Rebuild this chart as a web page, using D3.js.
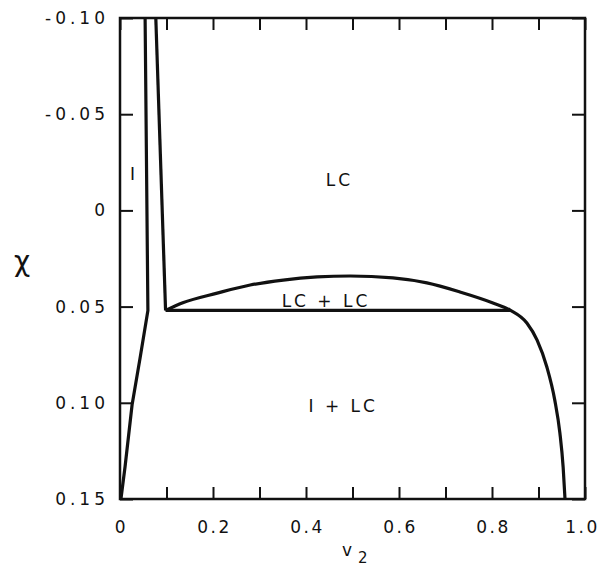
<!DOCTYPE html>
<html>
<head>
<meta charset="utf-8">
<script src="https://cdn.jsdelivr.net/npm/d3@7"></script>
<style>
  body { margin: 0; background: #fff; }
  text { font-family: 'DejaVu Sans', sans-serif; fill: #111; }
</style>
</head>
<body>
<svg width="604" height="571"></svg>
<script>
// axis ticks
const xTickValues = [0, 0.1, 0.2, 0.3, 0.4, 0.5, 0.6, 0.7, 0.8, 0.9, 1.0];
const xLabels = { 0: '0', 0.2: '0.2', 0.4: '0.4', 0.6: '0.6', 0.8: '0.8', 1: '1.0' };
const yTickValues = [-0.10, -0.05, 0, 0.05, 0.10, 0.15];
const yLabels = ['-0.10', '-0.05', '0', '0.05', '0.10', '0.15'];

// phase boundaries, [v2, chi]
const leftOuter = [[0.054, -0.10], [0.060, 0.052], [0.043, 0.077], [0.026, 0.101], [0.011, 0.133], [0.002, 0.15]];
const leftInner = [[0.077, -0.10], [0.098, 0.052]];
const tieLine = [[0.098, 0.052], [0.839, 0.052]];
const dome = [
    [0.098, 0.052], [0.135, 0.048], [0.209, 0.043], [0.280, 0.0388], [0.351, 0.0362],
    [0.424, 0.0346], [0.495, 0.0341], [0.587, 0.0351], [0.660, 0.0377], [0.731, 0.0424],
    [0.802, 0.0481], [0.839, 0.0518], [0.875, 0.0585], [0.897, 0.0674], [0.918, 0.0814],
    [0.935, 0.0986], [0.946, 0.1157], [0.953, 0.1334], [0.957, 0.15]
];

// region labels [text, v2, chi]
const regionLabels = [
    ['LC', 0.472, -0.016],
    ['I', 0.030, -0.019],
    ['LC + LC', 0.443, 0.047],
    ['I + LC', 0.480, 0.1015]
];

const svg = d3.select('svg');
const plotLeft = 120, plotRight = 585, plotTop = 18, plotBottom = 499;

const x = d3.scaleLinear().domain([0, 1]).range([plotLeft, plotRight]);
const y = d3.scaleLinear().domain([-0.10, 0.15]).range([plotTop, plotBottom]);

const styleAxis = (spacing) => (g) => {
    g.select('.domain').remove();
    g.selectAll('.tick line').attr('stroke', '#111').attr('stroke-width', 2);
    g.selectAll('.tick text')
        .attr('font-family', "'DejaVu Sans', sans-serif")
        .attr('font-size', 17)
        .attr('letter-spacing', spacing)
        .attr('fill', '#111');
};

// bottom axis with labels
svg.append('g')
    .attr('transform', `translate(0,${plotBottom})`)
    .call(d3.axisBottom(x)
        .tickValues(xTickValues)
        .tickSize(-12)
        .tickPadding(22)
        .tickFormat((d) => xLabels[Math.round(d * 10) / 10] || ''))
    .call(styleAxis(2.5))
    .selectAll('.tick text')
    .attr('dx', (d) => (d === 1 ? -3 : 1));

// top axis, ticks only
svg.append('g')
    .attr('transform', `translate(0,${plotTop})`)
    .call(d3.axisTop(x).tickValues(xTickValues).tickSize(-12).tickFormat(''))
    .call(styleAxis(0));

// left axis with labels
svg.append('g')
    .attr('transform', `translate(${plotLeft},0)`)
    .call(d3.axisLeft(y)
        .tickValues(yTickValues)
        .tickSize(-13)
        .tickPadding(11)
        .tickFormat((d, i) => yLabels[i]))
    .call(styleAxis(4));

// right axis, ticks only
svg.append('g')
    .attr('transform', `translate(${plotRight},0)`)
    .call(d3.axisRight(y).tickValues(yTickValues).tickSize(-13).tickFormat(''))
    .call(styleAxis(0));

// frame
svg.append('rect')
    .attr('x', plotLeft)
    .attr('y', plotTop)
    .attr('width', plotRight - plotLeft)
    .attr('height', plotBottom - plotTop)
    .attr('fill', 'none')
    .attr('stroke', '#111')
    .attr('stroke-width', 2.5);

// Curves
const line = d3.line().x((d) => x(d[0])).y((d) => y(d[1]));

const curves = svg.append('g')
    .attr('fill', 'none')
    .attr('stroke', '#111')
    .attr('stroke-width', 3.2)
    .attr('stroke-linejoin', 'round');

curves.append('path').attr('d', line(leftOuter));
curves.append('path').attr('d', line(leftInner));
curves.append('path').attr('d', line(tieLine));
curves.append('path').attr('d', line.curve(d3.curveMonotoneX)(dome));

// Region labels
svg.append('g')
    .selectAll('text')
    .data(regionLabels)
    .join('text')
    .attr('x', (d) => x(d[1]))
    .attr('y', (d) => y(d[2]))
    .attr('dy', '0.36em')
    .attr('text-anchor', 'middle')
    .attr('font-size', 17)
    .attr('letter-spacing', 3)
    .text((d) => d[0]);

// axis titles
svg.append('text')
    .attr('x', 22)
    .attr('y', 263)
    .attr('dy', '0.3em')
    .attr('text-anchor', 'middle')
    .attr('font-size', 28)
    .text('χ');

const vLabel = svg.append('text')
    .attr('x', 342)
    .attr('y', 556)
    .attr('font-size', 17);
vLabel.append('tspan').text('v');
vLabel.append('tspan').attr('dx', 6).attr('dy', 7).attr('font-size', 15).text('2');
</script>
</body>
</html>
